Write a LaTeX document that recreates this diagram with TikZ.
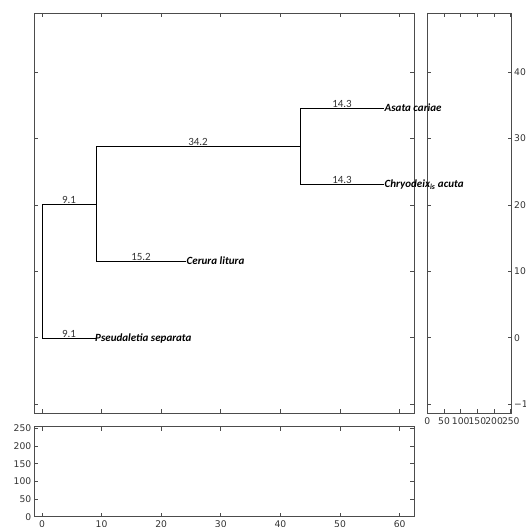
\documentclass[tikz,border=0pt]{standalone}
\usepackage{fontspec}
\setmainfont{Carlito}
\newfontfamily\dejavu{DejaVu Sans}
\begin{document}
\begin{tikzpicture}[x=1pt,y=-1pt,
  frame/.style={draw=black!70,line width=0.9pt},
  tick/.style={draw=black!70,line width=0.7pt},
  branch/.style={draw=black,line width=0.8pt},
  blen/.style={font=\fontsize{11}{13}\selectfont,text=black!80,inner sep=0pt,anchor=base},
  leaf/.style={font=\fontsize{11}{13}\selectfont\bfseries\itshape,inner sep=0pt,anchor=base west},
  axlab/.style={font=\dejavu\fontsize{9.2}{11}\selectfont,text=black!80,inner sep=0pt}]
\useasboundingbox (0,0) rectangle (525,527);
% frames
\draw[frame] (34,13) rectangle (414,413);
\draw[frame] (427.3,13) rectangle (511.7,413);
\draw[frame] (34,426.7) rectangle (414,516.7);
% main & bottom x ticks
\foreach \x in {42,101.6,161.2,220.8,280.4,340,399.6}{
  \draw[tick] (\x,13) -- ++(0,4);
  \draw[tick] (\x,413) -- ++(0,-4);
  \draw[tick] (\x,426.7) -- ++(0,4);
  \draw[tick] (\x,516.7) -- ++(0,-4);
}
% main & right y ticks
\foreach \y in {72.1,138.5,204.9,271.3,337.7,404.1}{
  \draw[tick] (34,\y) -- ++(4,0);
  \draw[tick] (414,\y) -- ++(-4,0);
  \draw[tick] (427.3,\y) -- ++(4,0);
  \draw[tick] (511.7,\y) -- ++(-4,0);
}
% right panel x ticks
\foreach \x in {427.3,444,460.7,477.4,494.1,510.8}{
  \draw[tick] (\x,13) -- ++(0,4);
  \draw[tick] (\x,413) -- ++(0,-4);
}
% bottom panel y ticks
\foreach \y in {428.4,446.1,463.7,481.4,499,516.7}{
  \draw[tick] (34,\y) -- ++(4,0);
  \draw[tick] (414,\y) -- ++(-4,0);
}
% tick labels: right panel y
\foreach \y/\t in {72.1/40,138.5/30,204.9/20,271.3/10,337.7/0,404.1/−10}{
  \node[axlab,anchor=west] (ry\t) at (514,\y) {\t};
}
% right panel x labels
\foreach \x/\t in {427.3/0,444/50,460.7/100,477.4/150,494.1/200,510.8/250}{
  \node[axlab,anchor=north] (rx\t) at (\x,417) {\t};
}
% bottom panel y labels
\foreach \y/\t in {428.4/250,446.1/200,463.7/150,481.4/100,499/50,516.7/0}{
  \node[axlab,anchor=east] (by\t) at (31.5,\y) {\t};
}
% bottom panel x labels
\foreach \x/\t in {42/0,101.6/10,161.2/20,220.8/30,280.4/40,340/50,399.6/60}{
  \node[axlab,anchor=north] (bx\t) at (\x,520) {\t};
}
% tree
\coordinate (root) at (42,204);
\coordinate (n1) at (96,204);
\coordinate (n2) at (300,146);
\coordinate (pe) at (96,338);
\coordinate (ce) at (186,261);
\coordinate (ae) at (384,108);
\coordinate (che) at (384,184);
\node[leaf] (pseu) at (95,341.5) {Pseudaletia separata};
\node[leaf] (cer) at (186.5,264.5) {Cerura litura};
\node[leaf] (asa) at (384.5,111.5) {Asata cariae};
\node[leaf] (chr) at (384.5,187.5) {Chryodeix\textsubscript{is} acuta};
\draw[branch] (root |- pe) -- (pe);
\draw[branch] (root |- pe) -- (root) -- (n1);
\draw[branch] (n1 |- n2) -- (n1 |- ce) -- (ce);
\draw[branch] (n1 |- n2) -- (n2);
\draw[branch] (n2 |- ae) -- (ae);
\draw[branch] (n2 |- ae) -- (n2 |- che) -- (che);
% branch lengths
\node[blen] (l1) at (69,337.5) {9.1};
\node[blen] (l2) at (69,203.5) {9.1};
\node[blen] (l3) at (141,260.5) {15.2};
\node[blen] (l4) at (198,145.5) {34.2};
\node[blen] (l5) at (342,107.5) {14.3};
\node[blen] (l6) at (342,183.5) {14.3};
\end{tikzpicture}
\end{document}
